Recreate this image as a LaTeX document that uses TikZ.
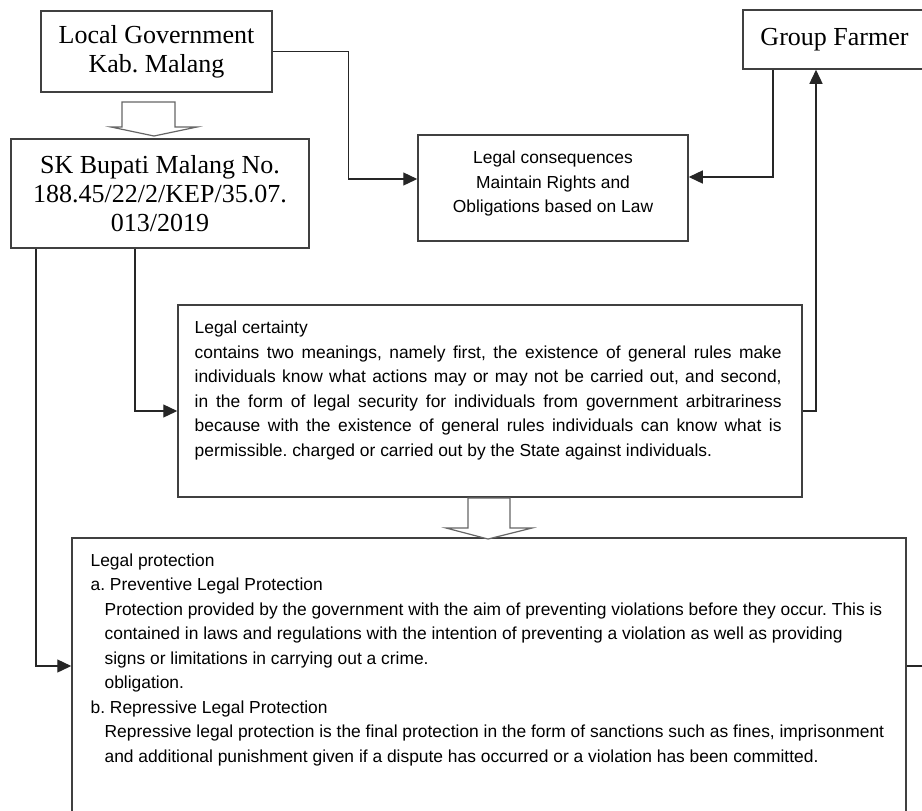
\documentclass[tikz,border=0pt]{standalone}
\usepackage{fontspec}
\setmainfont{Liberation Serif}
\setsansfont{Liberation Sans}
\usetikzlibrary{arrows.meta,positioning,calc}
\frenchspacing

\begin{document}
\begin{tikzpicture}[
    x=0.5pt, y=-0.5pt,
    box/.style={draw=black!75, line width=0.75pt, fill=white, inner sep=0pt},
    titlebox/.style={box, font=\fontsize{13}{14.3}\selectfont, align=center},
    infotext/.style={font=\sffamily\fontsize{8.7}{12.25}\selectfont},
    arr/.style={-{Triangle[length=7pt,width=6.5pt]}, line width=0.65pt, black!85},
    link/.style={line width=0.65pt, black!85},
    hollow/.style={draw=black!60, line width=0.6pt, fill=white}
]
\clip (0,0) rectangle (922,810);

% Left column
\node[titlebox, minimum width=115.5pt, minimum height=40.5pt] (lg) at (156.5,51.5) {Local Government\\Kab. Malang};
\node[titlebox, minimum width=149pt, minimum height=54.5pt] (sk) at (160,193.5) {SK Bupati Malang No.\\188.45/22/2/KEP/35.07.\\013/2019};

% Right column
\node[box, infotext, align=center, minimum width=135pt, minimum height=53pt, text depth=6pt] (lc) at (553,188) {Legal consequences\\Maintain Rights and\\Obligations based on Law};
\node[titlebox, minimum width=91.5pt, minimum height=29.5pt] (gf) at (834.5,39.5) {Group Farmer};

% Legal certainty
\node[box, minimum width=312pt, minimum height=96pt] (cert) at (490,401) {};
\node[infotext, text width=293.5pt, align=justify, inner sep=0pt, below right=8.25pt and 8.5pt of cert.north west] (certtxt) {Legal certainty\newline
contains two meanings, namely first, the existence of general rules make\linebreak
individuals know what actions may or may not be carried out, and second,\linebreak
in the form of legal security for individuals from government arbitrariness\linebreak
because with the existence of general rules individuals can know what is\linebreak
permissible. charged or carried out by the State against individuals.};

% Legal protection
\node[box, minimum width=417pt, minimum height=138.5pt] (prot) at (489,676.5) {};
\node[infotext, align=left, inner sep=0pt, below right=8pt and 9.5pt of prot.north west] (prottxt) {Legal protection\\
a. Preventive Legal Protection\\
\hspace*{7pt}Protection provided by the government with the aim of preventing violations before they occur. This is\\
\hspace*{7pt}contained in laws and regulations with the intention of preventing a violation as well as providing\\
\hspace*{7pt}signs or limitations in carrying out a crime.\\
\hspace*{7pt}obligation.\\
b. Repressive Legal Protection\\
\hspace*{7pt}Repressive legal protection is the final protection in the form of sanctions such as fines, imprisonment\\
\hspace*{7pt}and additional punishment given if a dispute has occurred or a violation has been committed.};

% Block arrows
\draw[hollow] (122,102) -- (175,102) -- (175,127) -- (197,127) -- (154,136) -- (111,127) -- (122,127) -- cycle;
\draw[hollow] (468,498) -- (510,498) -- (510,528) -- (532,528) -- (488,539) -- (446,528) -- (468,528) -- cycle;

% Connectors
\draw[arr] (lg.east) -- ++(76,0) |- ([yshift=4.5pt]lc.west);
\draw[arr] ([xshift=-30.75pt]gf.south) |- ([yshift=5.5pt]lc.east);
\draw[arr] ([xshift=-62pt]sk.south) |- ([yshift=5.25pt]prot.west);
\draw[arr] ([xshift=-12.5pt]sk.south) |- ([yshift=-5pt]cert.west);
\draw[arr] ([yshift=-5pt]cert.east) -| ([xshift=-9.25pt]gf.south);
\coordinate (rim) at (930,666);
\draw[link] ([yshift=5.25pt]prot.east) -- (rim);

\end{tikzpicture}
\end{document}
